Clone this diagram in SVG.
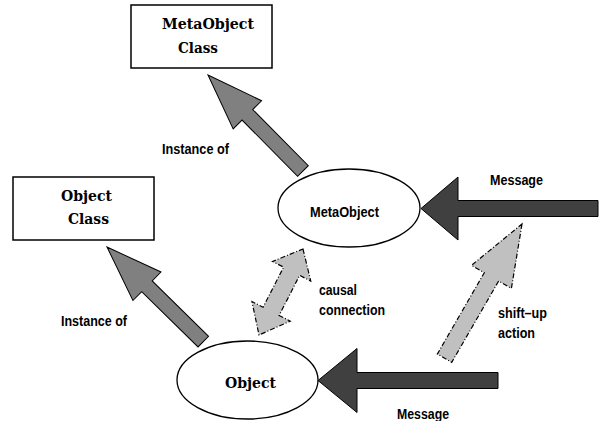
<svg xmlns="http://www.w3.org/2000/svg" width="600" height="421" viewBox="0 0 600 421">
<style>
.box{fill:#fff;stroke:#000;stroke-width:1.5}
.ell{fill:#fff;stroke:#000;stroke-width:1.3}
.serif{font-family:"DejaVu Serif","Liberation Serif",serif;font-weight:bold;font-size:14px;fill:#000}
.sans{font-family:"Liberation Sans",Arial,sans-serif;font-weight:bold;font-size:14px;fill:#000}
.inst{fill:#808080;stroke:#000;stroke-width:1}
.msg{fill:#404040;stroke:#000;stroke-width:1}
.dash{fill:#c0c0c0;stroke:#000;stroke-width:1.2;stroke-dasharray:5,2,1,2}
</style>
<rect width="600" height="421" fill="#fff"/>
<g id="connectors">
  <polygon class="inst" transform="translate(208,75) rotate(45.3)" points="0,0 56,-20 56,-7.5 135,-7.5 135,7.5 56,7.5 56,20"/>
  <polygon class="inst" transform="translate(107,247) rotate(44.5)" points="0,0 56,-20 56,-7.5 135,-7.5 135,7.5 56,7.5 56,20"/>
  <polygon class="msg" transform="translate(421,208.5)" points="0,0 37,-31.5 37,-8 177,-8 177,8 37,8 37,31.5"/>
  <polygon class="msg" transform="translate(318,380.5)" points="0,0 39,-32 39,-8 180,-8 180,8 39,8 39,32"/>
  <polygon class="dash" transform="translate(522,224) rotate(120)" points="0,0 61,-23 61,-8.3 155,-8.3 155,8.3 61,8.3 61,23"/>
  <polygon class="dash" transform="translate(303,249) rotate(117.1)" points="0,0 25,-21.5 25,-9 70,-9 70,-21.5 96.6,0 70,21.5 70,9 25,9 25,21.5"/>
  <text class="sans" x="162" y="154" textLength="67" lengthAdjust="spacingAndGlyphs">Instance of</text>
  <text class="sans" x="61" y="326" textLength="66" lengthAdjust="spacingAndGlyphs">Instance of</text>
  <text class="sans" x="490" y="185" textLength="53" lengthAdjust="spacingAndGlyphs">Message</text>
  <text class="sans" x="397" y="418.5" textLength="52" lengthAdjust="spacingAndGlyphs">Message</text>
  <text class="sans" x="319" y="295" textLength="38" lengthAdjust="spacingAndGlyphs">causal</text>
  <text class="sans" x="319" y="315" textLength="66" lengthAdjust="spacingAndGlyphs">connection</text>
  <text class="sans" x="498" y="318" textLength="49" lengthAdjust="spacingAndGlyphs">shift–up</text>
  <text class="sans" x="498" y="338" textLength="37" lengthAdjust="spacingAndGlyphs">action</text>
</g>
<g id="metaobject-class">
  <rect class="box" x="131" y="5" width="141" height="63"/>
  <text class="serif" x="162" y="28.5" textLength="92" lengthAdjust="spacingAndGlyphs">MetaObject</text>
  <text class="serif" x="178" y="52.5" textLength="40" lengthAdjust="spacingAndGlyphs">Class</text>
</g>
<g id="object-class">
  <rect class="box" x="13" y="177" width="141" height="63"/>
  <text class="serif" x="61" y="201" textLength="51" lengthAdjust="spacingAndGlyphs">Object</text>
  <text class="serif" x="68" y="224" textLength="41" lengthAdjust="spacingAndGlyphs">Class</text>
</g>
<g id="metaobject">
  <ellipse class="ell" cx="349" cy="208" rx="71" ry="39"/>
  <text class="sans" x="310" y="217" font-size="15" textLength="69" lengthAdjust="spacingAndGlyphs">MetaObject</text>
</g>
<g id="object">
  <ellipse class="ell" cx="247.5" cy="380" rx="70.5" ry="39"/>
  <text class="serif" x="225" y="388" textLength="51" lengthAdjust="spacingAndGlyphs">Object</text>
</g>
</svg>
